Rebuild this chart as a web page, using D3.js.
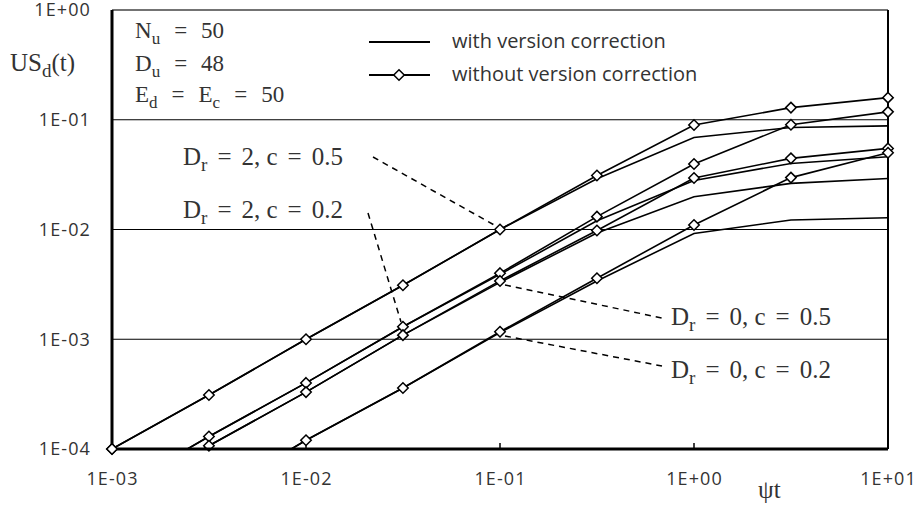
<!DOCTYPE html>
<html>
<head>
<meta charset="utf-8">
<script src="https://cdn.jsdelivr.net/npm/d3@7"></script>
<style>
  body { margin: 0; background: #fff; }
  .tick text { font-family: "Open Sans", sans-serif; font-size: 18px; letter-spacing: 1.1px; fill: #333; }
  .serif { font-family: "Liberation Serif", serif; fill: #333; white-space: pre; }
  .legend { font-family: "Open Sans", sans-serif; font-size: 20px; fill: #333; }
</style>
</head>
<body>
<div class="main-graph"></div>
<script>
// time points (psi t)
var tValues = [0.001, 0.00316, 0.01, 0.0316, 0.1, 0.316, 1, 3.16, 10];

// without version correction (diamonds)
var noCorrA = [1e-4, 3.1e-4, 1e-3, 3.1e-3, 0.01, 0.031, 0.0895, 0.129, 0.159];    // Dr=2, c=0.5
var noCorrB = [4e-5, 1.3e-4, 4e-4, 1.3e-3, 0.004, 0.0131, 0.0395, 0.09, 0.118];   // Dr=2, c=0.2
var noCorrC = [3.3e-5, 1.07e-4, 3.3e-4, 1.09e-3, 0.0034, 0.0098, 0.0295, 0.0445, 0.0548]; // Dr=0, c=0.5
var noCorrD = [1.1e-5, 3.6e-5, 1.2e-4, 3.6e-4, 0.00117, 0.0036, 0.011, 0.0297, 0.050];   // Dr=0, c=0.2

// with version correction (plain lines)
var corrA = [1e-4, 3.1e-4, 1e-3, 3.1e-3, 0.01, 0.029, 0.069, 0.085, 0.088];
var corrB = [4e-5, 1.3e-4, 4e-4, 1.3e-3, 0.0039, 0.012, 0.028, 0.040, 0.046];
var corrC = [3.3e-5, 1.07e-4, 3.3e-4, 1.09e-3, 0.0033, 0.0093, 0.0199, 0.0263, 0.0292];
var corrD = [1.1e-5, 3.6e-5, 1.2e-4, 3.6e-4, 0.00115, 0.0034, 0.0092, 0.0122, 0.0128];

var xTicks = [0.001, 0.01, 0.1, 1, 10];
var xTickLabels = ["1E-03", "1E-02", "1E-01", "1E+00", "1E+01"];
var yTicks = [1e-4, 1e-3, 1e-2, 1e-1, 1];
var yTickLabels = ["1E-04", "1E-03", "1E-02", "1E-01", "1E+00"];

var margin = {top: 10, right: 32, bottom: 57, left: 112},
    width = 920 - margin.left - margin.right,
    height = 506 - margin.top - margin.bottom;

var svg = d3.select(".main-graph")
            .append("svg")
            .attr("width", 920)
            .attr("height", 506)
            .append("g")
            .attr("transform", "translate(" + margin.left + "," + margin.top + ")");

var x = d3.scaleLog().domain([0.001, 10]).range([0, width]);
var y = d3.scaleLog().domain([1e-4, 1]).range([height, 0]);

// gridlines
svg.selectAll(".grid")
   .data(yTicks.slice(1, 4))
   .enter().append("line")
   .attr("x1", 0).attr("x2", width)
   .attr("y1", d => y(d)).attr("y2", d => y(d))
   .attr("stroke", "#000").attr("stroke-width", 1.2);

// axes (labels only)
svg.append("g")
   .attr("transform", "translate(0," + height + ")")
   .call(d3.axisBottom(x).tickValues(xTicks).tickSize(0).tickPadding(23)
           .tickFormat((d, i) => xTickLabels[i]))
   .call(g => g.select(".domain").remove());

svg.append("g")
   .call(d3.axisLeft(y).tickValues(yTicks).tickSize(0).tickPadding(21)
           .tickFormat((d, i) => yTickLabels[i]))
   .call(g => g.select(".domain").remove());

// small inner ticks on x axis
svg.selectAll(".xt")
   .data(xTicks.slice(1, 4))
   .enter().append("line")
   .attr("x1", d => x(d)).attr("x2", d => x(d))
   .attr("y1", height).attr("y2", height - 6)
   .attr("stroke", "#000").attr("stroke-width", 1.5);

// frame
svg.append("line").attr("x1", 0).attr("x2", width).attr("y1", 0).attr("y2", 0)
   .attr("stroke", "#444").attr("stroke-width", 1.5);
svg.append("line").attr("x1", width).attr("x2", width).attr("y1", 0).attr("y2", height)
   .attr("stroke", "#000").attr("stroke-width", 2);

svg.append("clipPath").attr("id", "plotclip")
   .append("rect").attr("x", 0).attr("y", 0).attr("width", width).attr("height", height);

var line = d3.line()
             .x((d, i) => x(tValues[i]))
             .y(d => y(d));

var plot = svg.append("g").attr("clip-path", "url(#plotclip)");

[corrA, corrB, corrC, corrD, noCorrA, noCorrB, noCorrC, noCorrD].forEach(s => {
    plot.append("path")
        .attr("d", line(s))
        .attr("fill", "none")
        .attr("stroke", "#000")
        .attr("stroke-width", 1.6);
});

var diamond = d3.symbol().type(d3.symbolDiamond2).size(70);

[noCorrA, noCorrB, noCorrC, noCorrD].forEach(s => {
    svg.selectAll(null)
       .data(s.map((v, i) => ({t: tValues[i], v: v})).filter(d => d.v >= 0.97e-4))
       .enter().append("path")
       .attr("d", diamond)
       .attr("transform", d => "translate(" + x(d.t) + "," + y(d.v) + ")")
       .attr("fill", "#fff")
       .attr("stroke", "#000")
       .attr("stroke-width", 1.5);
});

// left and bottom axis lines (thick)
svg.append("line").attr("x1", 0).attr("x2", 0).attr("y1", 0).attr("y2", height)
   .attr("stroke", "#000").attr("stroke-width", 3);
svg.append("line").attr("x1", 0).attr("x2", width).attr("y1", height).attr("y2", height)
   .attr("stroke", "#000").attr("stroke-width", 3);

// corner marker above the axis lines
svg.append("path").attr("d", diamond)
   .attr("transform", "translate(" + x(tValues[0]) + "," + y(noCorrA[0]) + ")")
   .attr("fill", "#fff").attr("stroke", "#000").attr("stroke-width", 1.5);

// text with subscripts and wide math "=" spacing
// parts: [text, kind]  kind: "n" normal, "s" subscript, "e" equals sign
function mathText(g, px, py, size, gap, parts) {
    var t = g.append("text").attr("class", "serif")
             .attr("x", px).attr("y", py).style("font-size", size + "px");
    var shift = Math.round(size * 0.25), down = false, padNext = 0;
    parts.forEach(p => {
        var ts = t.append("tspan").text(p[0]);
        var dy = 0, dx = padNext;
        padNext = 0;
        if (p[1] === "s") {
            ts.style("font-size", Math.round(size * 0.74) + "px");
            if (!down) { dy = shift; down = true; }
        } else if (down) { dy = -shift; down = false; }
        if (p[1] === "e") { dx += gap; padNext = gap; }
        if (dy) ts.attr("dy", dy);
        if (dx) ts.attr("dx", dx);
    });
    return t;
}

var root = d3.select("svg");

// y label
mathText(root, 10, 71, 25, 0, [["US", "n"], ["d", "s"], ["(t)", "n"]]);

// parameter box
mathText(root, 135, 38, 23, 14, [["N", "n"], ["u", "s"], ["=", "e"], ["50", "n"]]);
mathText(root, 135, 71, 23, 14, [["D", "n"], ["u", "s"], ["=", "e"], ["48", "n"]]);
mathText(root, 135, 102, 23, 14, [["E", "n"], ["d", "s"], ["=", "e"], ["E", "n"], ["c", "s"], ["=", "e"], ["50", "n"]]);

// legend
root.append("line").attr("x1", 369).attr("x2", 430).attr("y1", 42).attr("y2", 42)
    .attr("stroke", "#000").attr("stroke-width", 2);
root.append("line").attr("x1", 369).attr("x2", 430).attr("y1", 75).attr("y2", 75)
    .attr("stroke", "#000").attr("stroke-width", 2);
root.append("path").attr("d", diamond).attr("transform", "translate(399,75)")
    .attr("fill", "#fff").attr("stroke", "#000").attr("stroke-width", 1.5);
root.append("text").attr("class", "legend").attr("x", 452).attr("y", 48).text("with version correction");
root.append("text").attr("class", "legend").attr("x", 452).attr("y", 81).text("without version correction");

// curve labels
mathText(root, 183, 165, 25, 10, [["D", "n"], ["r", "s"], ["=", "e"], ["2, c", "n"], ["=", "e"], ["0.5", "n"]]);
mathText(root, 183, 218, 25, 10, [["D", "n"], ["r", "s"], ["=", "e"], ["2, c", "n"], ["=", "e"], ["0.2", "n"]]);
mathText(root, 671, 325, 25, 10, [["D", "n"], ["r", "s"], ["=", "e"], ["0, c", "n"], ["=", "e"], ["0.5", "n"]]);
mathText(root, 671, 378, 25, 10, [["D", "n"], ["r", "s"], ["=", "e"], ["0, c", "n"], ["=", "e"], ["0.2", "n"]]);

// leader lines
var leaders = [[373, 157, 496, 226], [368, 213, 401, 322], [505, 285, 662, 318], [505, 336, 662, 366]];
root.selectAll(".leader")
    .data(leaders)
    .enter().append("line")
    .attr("x1", d => d[0]).attr("y1", d => d[1])
    .attr("x2", d => d[2]).attr("y2", d => d[3])
    .attr("stroke", "#000").attr("stroke-width", 1.5)
    .attr("stroke-dasharray", "6,5");

// x label
root.append("text").attr("x", 758).attr("y", 498)
    .style("font-family", "'Liberation Serif', serif").style("font-size", "25px").style("fill", "#333")
    .text("ψt");
</script>
</body>
</html>
